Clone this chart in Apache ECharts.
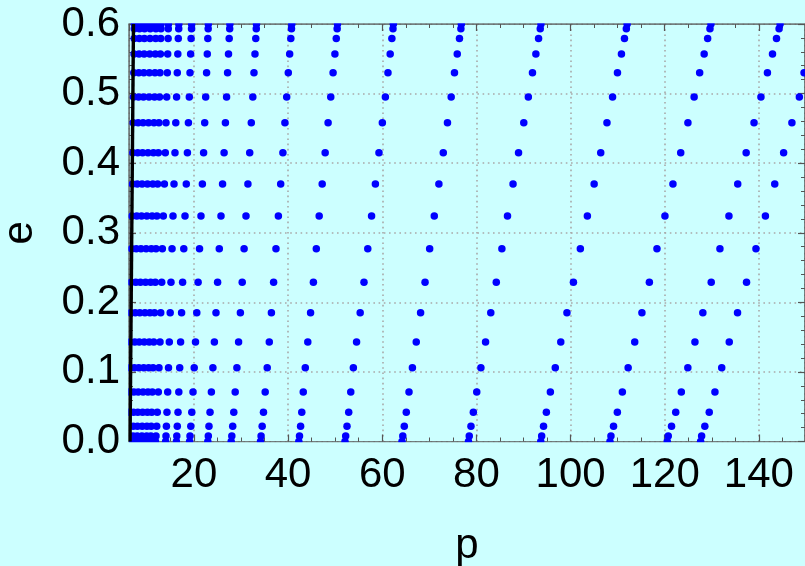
<!DOCTYPE html>
<html><head><meta charset="utf-8">
<script src="https://cdn.jsdelivr.net/npm/echarts@6/dist/echarts.min.js"></script>
<style>html,body{margin:0;padding:0;background:#ccffff}#c{width:805px;height:566px}</style>
</head><body><div id="c"></div>
<script>
// eccentricity rows (shared by every curve), bottom to top
const eRows = [0, 0.008, 0.022, 0.042, 0.071, 0.106, 0.143, 0.185, 0.229, 0.277, 0.324, 0.370, 0.415, 0.458, 0.495, 0.530, 0.557, 0.579, 0.593, 0.600];

// p values of each curve at the eRows above
const pD1 = [6.10, 6.13, 6.17, 6.23, 6.30, 6.39, 6.47, 6.56, 6.66, 6.75, 6.84, 6.94, 7.02, 7.09, 7.16, 7.22, 7.27, 7.31, 7.34, 7.34];
const pD2 = [7.00, 7.04, 7.08, 7.15, 7.23, 7.33, 7.43, 7.53, 7.64, 7.74, 7.85, 7.96, 8.06, 8.14, 8.22, 8.28, 8.34, 8.39, 8.42, 8.43];
const pD3 = [7.90, 7.94, 7.99, 8.07, 8.16, 8.27, 8.38, 8.50, 8.62, 8.74, 8.86, 8.98, 9.09, 9.19, 9.27, 9.35, 9.42, 9.46, 9.50, 9.51];
const pD4 = [8.90, 8.94, 9.00, 9.09, 9.19, 9.32, 9.44, 9.58, 9.71, 9.84, 9.99, 10.12, 10.24, 10.35, 10.45, 10.53, 10.61, 10.66, 10.71, 10.72];
const pD5 = [9.90, 9.95, 10.01, 10.11, 10.23, 10.37, 10.50, 10.65, 10.80, 10.95, 11.11, 11.26, 11.39, 11.51, 11.62, 11.71, 11.80, 11.86, 11.91, 11.92];
const pD6 = [10.80, 10.85, 10.92, 11.03, 11.16, 11.31, 11.46, 11.62, 11.78, 11.94, 12.12, 12.28, 12.43, 12.56, 12.68, 12.78, 12.87, 12.94, 12.99, 13.00];
const pL1 = [11.83, 11.94, 12.09, 12.21, 12.43, 12.57, 12.79, 12.94, 13.15, 13.28, 13.49, 13.72, 13.91, 14.06, 14.21, 14.34, 14.42, 14.51, 14.55, 14.57];
const pL2 = [13.98, 14.06, 14.15, 14.27, 14.42, 14.59, 14.76, 14.95, 15.12, 15.34, 15.55, 15.76, 15.97, 16.14, 16.31, 16.46, 16.57, 16.67, 16.76, 16.78];
const pL3 = [16.27, 16.35, 16.46, 16.61, 16.78, 16.97, 17.16, 17.37, 17.59, 17.84, 18.10, 18.37, 18.61, 18.82, 19.01, 19.16, 19.29, 19.39, 19.48, 19.50];
const pL4 = [19.07, 19.16, 19.33, 19.54, 19.80, 20.05, 20.33, 20.60, 20.88, 21.18, 21.49, 21.79, 22.05, 22.28, 22.49, 22.68, 22.83, 22.94, 23.02, 23.05];
const pL5 = [22.94, 23.05, 23.19, 23.41, 23.70, 24.02, 24.34, 24.68, 25.02, 25.38, 25.74, 26.08, 26.40, 26.68, 26.93, 27.14, 27.34, 27.48, 27.59, 27.63];
const pL6 = [27.91, 28.04, 28.23, 28.46, 28.76, 29.12, 29.48, 29.86, 30.25, 30.65, 31.05, 31.46, 31.84, 32.18, 32.50, 32.75, 32.96, 33.13, 33.24, 33.28];
const pL7 = [34.13, 34.26, 34.49, 34.77, 35.13, 35.56, 36.00, 36.45, 36.92, 37.42, 37.93, 38.42, 38.89, 39.32, 39.70, 40.04, 40.33, 40.57, 40.72, 40.78];
const pM1 = [42.27, 42.42, 42.65, 42.90, 43.22, 43.65, 44.18, 44.77, 45.37, 45.99, 46.60, 47.24, 47.87, 48.49, 49.06, 49.55, 49.94, 50.23, 50.42, 50.49];
const pM2 = [52.08, 52.23, 52.51, 52.87, 53.31, 53.86, 54.54, 55.31, 56.12, 56.92, 57.73, 58.54, 59.30, 60.02, 60.66, 61.21, 61.68, 62.04, 62.28, 62.36];
const pM3 = [64.19, 64.36, 64.68, 65.10, 65.68, 66.40, 67.22, 68.14, 69.09, 70.07, 71.05, 72.03, 72.96, 73.85, 74.64, 75.34, 75.93, 76.40, 76.70, 76.80];
const pM4 = [78.31, 78.48, 78.84, 79.35, 80.07, 80.95, 81.94, 83.05, 84.22, 85.41, 86.60, 87.78, 88.95, 90.06, 91.03, 91.91, 92.63, 93.20, 93.56, 93.71];
const pH1 = [93.67, 93.86, 94.26, 94.86, 95.71, 96.75, 97.92, 99.23, 100.61, 102.08, 103.57, 105.01, 106.41, 107.73, 108.92, 109.96, 110.81, 111.45, 111.85, 112.02];
const pH2 = [108.37, 108.58, 109.13, 109.94, 111.00, 112.23, 113.63, 115.16, 116.74, 118.35, 120.05, 121.75, 123.40, 124.93, 126.25, 127.42, 128.38, 129.12, 129.61, 129.82];
const pH3 = [120.54, 120.75, 121.45, 122.34, 123.53, 124.91, 126.42, 128.10, 129.88, 131.73, 133.64, 135.51, 137.30, 138.97, 140.44, 141.82, 142.90, 143.75, 144.30, 144.51];
const pH4 = [127.63, 127.84, 128.52, 129.46, 130.67, 132.11, 133.71, 135.47, 137.38, 139.38, 141.39, 143.37, 145.26, 147.02, 148.60, 149.60, 151.06, 151.91, 152.44, 152.60];

// black boundary line near the left edge
const sepP = [6.42, 7.15];
const sepE = [0.0, 0.6];

// axis ranges
const xMin = 6.2, xMax = 149.8;
const yMin = 0, yMax = 0.6;

const curves = [pD1, pD2, pD3, pD4, pD5, pD6, pL1, pL2, pL3, pL4, pL5, pL6, pL7, pM1, pM2, pM3, pM4, pH1, pH2, pH3, pH4];
const points = [];
curves.forEach(c => c.forEach((p, i) => points.push([p, eRows[i]])));
const sepData = sepP.map((p, i) => [p, sepE[i]]);

const FONT = '"Liberation Sans", Arial, Helvetica, sans-serif';
const BG = '#ccffff';
const frame = '#555555';
const gridLine = {show: true, lineStyle: {color: '#a9a9a9', width: 1.6, type: [1.6, 3.6]}};

function xAx(pos, main) {
  return {
    type: 'value', position: pos, min: xMin, max: xMax, splitNumber: 7,
    axisLine: {show: true, onZero: false, lineStyle: {color: frame, width: 1.5}},
    axisTick: {show: true, inside: true, length: 7, lineStyle: {color: frame, width: 1.2}},
    minorTick: {show: true, splitNumber: 4, length: 4, lineStyle: {color: frame, width: 1}},
    axisLabel: main ? {show: true, fontSize: 42, color: '#000', fontFamily: FONT, margin: 13, showMinLabel: false, showMaxLabel: false} : {show: false},
    splitLine: main ? gridLine : {show: false},
    name: main ? 'p' : '', nameLocation: 'middle', nameGap: 84,
    nameTextStyle: {fontSize: 42, color: '#000', fontFamily: FONT}
  };
}
function yAx(pos, main) {
  return {
    type: 'value', position: pos, min: yMin, max: yMax, interval: 0.1,
    axisLine: {show: true, onZero: false, lineStyle: {color: frame, width: 1.5}},
    axisTick: {show: true, inside: true, length: 7, lineStyle: {color: frame, width: 1.2}},
    minorTick: {show: true, splitNumber: 5, length: 4, lineStyle: {color: frame, width: 1}},
    axisLabel: main ? {show: true, fontSize: 42, color: '#000', fontFamily: FONT, margin: 9, formatter: v => v.toFixed(1)} : {show: false},
    splitLine: main ? gridLine : {show: false},
    name: main ? 'e' : '', nameLocation: 'middle', nameGap: 88, nameRotate: 90,
    nameTextStyle: {fontSize: 42, color: '#000', fontFamily: FONT}
  };
}

const chart = echarts.init(document.getElementById('c'), null, {renderer: 'canvas'});
chart.setOption({
  backgroundColor: BG,
  animation: false,
  grid: {left: 129, right: 0, top: 24, bottom: 124.5, containLabel: false, outerBoundsMode: 'none'},
  xAxis: [xAx('bottom', true), xAx('top', false)],
  yAxis: [yAx('left', true), yAx('right', false)],
  series: [
    {type: 'scatter', xAxisIndex: 0, yAxisIndex: 0, data: points, symbol: 'circle', symbolSize: 7.5,
     itemStyle: {color: '#0000ff', opacity: 1}, clip: true, silent: true, z: 3},
    {type: 'line', xAxisIndex: 0, yAxisIndex: 0, data: sepData, symbol: 'none', clip: true,
     lineStyle: {color: '#000', width: 3.4}, z: 4, silent: true}
  ]
});

// mask the halves of the points that overflow the frame (the reference clips marks at the frame)
const tl = chart.convertToPixel({xAxisIndex: 0, yAxisIndex: 0}, [xMin, yMax]);
const br = chart.convertToPixel({xAxisIndex: 0, yAxisIndex: 0}, [xMax, yMin]);
const lw = 0.8;
chart.setOption({
  graphic: [
    {type: 'rect', z: 50, silent: true, shape: {x: tl[0] - 8, y: 0, width: 805, height: tl[1] - lw}, style: {fill: BG}},
    {type: 'rect', z: 50, silent: true, shape: {x: tl[0] - 8, y: br[1] + lw, width: 805, height: 6}, style: {fill: BG}},
    {type: 'rect', z: 50, silent: true, shape: {x: tl[0] - 8, y: 0, width: 8 - lw, height: br[1] + 8}, style: {fill: BG}}
  ]
});
</script></body></html>
